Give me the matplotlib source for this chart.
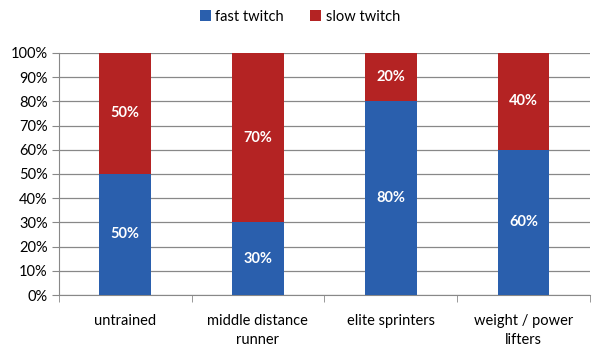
import matplotlib
matplotlib.use("Agg")
import matplotlib.pyplot as plt
import numpy as np
from matplotlib.ticker import PercentFormatter, FixedLocator

plt.rcParams['font.family'] = ['Lato', 'DejaVu Sans']

categories = ["untrained", "middle distance\nrunner", "elite sprinters", "weight / power\nlifters"]
fast_twitch = [50, 30, 80, 60]
slow_twitch = [50, 70, 20, 40]
series_names = ["fast twitch", "slow twitch"]
blue = "#2a5fad"
red = "#b42323"

fig = plt.figure(figsize=(6, 3.5), dpi=100)
ax = fig.add_axes([0.098, 0.157, 0.885, 0.692])

x = np.arange(len(categories))
w = 0.39
b1 = ax.bar(x, fast_twitch, w, color=blue, label=series_names[0], zorder=3)
b2 = ax.bar(x, slow_twitch, w, bottom=fast_twitch, color=red, label=series_names[1], zorder=3)

for i in range(len(categories)):
    ax.text(x[i], fast_twitch[i] / 2, f"{fast_twitch[i]}%", ha='center', va='center',
            color='white', fontsize=10.5, fontweight='bold', zorder=4)
    ax.text(x[i], fast_twitch[i] + slow_twitch[i] / 2, f"{slow_twitch[i]}%", ha='center', va='center',
            color='white', fontsize=10.5, fontweight='bold', zorder=4)

ax.set_xlim(-0.5, len(categories) - 0.5)
ax.set_ylim(0, 100)
ax.set_yticks(np.arange(0, 101, 10))
ax.yaxis.set_major_formatter(PercentFormatter(decimals=0))
ax.set_xticks(x)
ax.set_xticklabels(categories, fontsize=10.5, linespacing=1.45)
ax.xaxis.set_minor_locator(FixedLocator(np.arange(-0.5, len(categories), 1)))
ax.tick_params(axis='x', which='major', length=0, pad=14)
ax.tick_params(axis='x', which='minor', length=5, color='#888888', direction='out')
ax.tick_params(axis='y', length=5, color='#888888', labelsize=10.5, pad=3)
ax.grid(axis='y', color='#888888', linewidth=0.9, zorder=0)
for s in ['top', 'right']:
    ax.spines[s].set_visible(False)
ax.spines['left'].set_color('#888888')
ax.spines['bottom'].set_color('#888888')

fig.legend(handles=[b1, b2], labels=series_names, loc='upper center', bbox_to_anchor=(0.5, 1.01),
           ncol=2, frameon=False, fontsize=10.5, handlelength=0.75, handleheight=0.75,
           handletextpad=0.3, columnspacing=1.8)

fig.savefig("out.png", dpi=100)
